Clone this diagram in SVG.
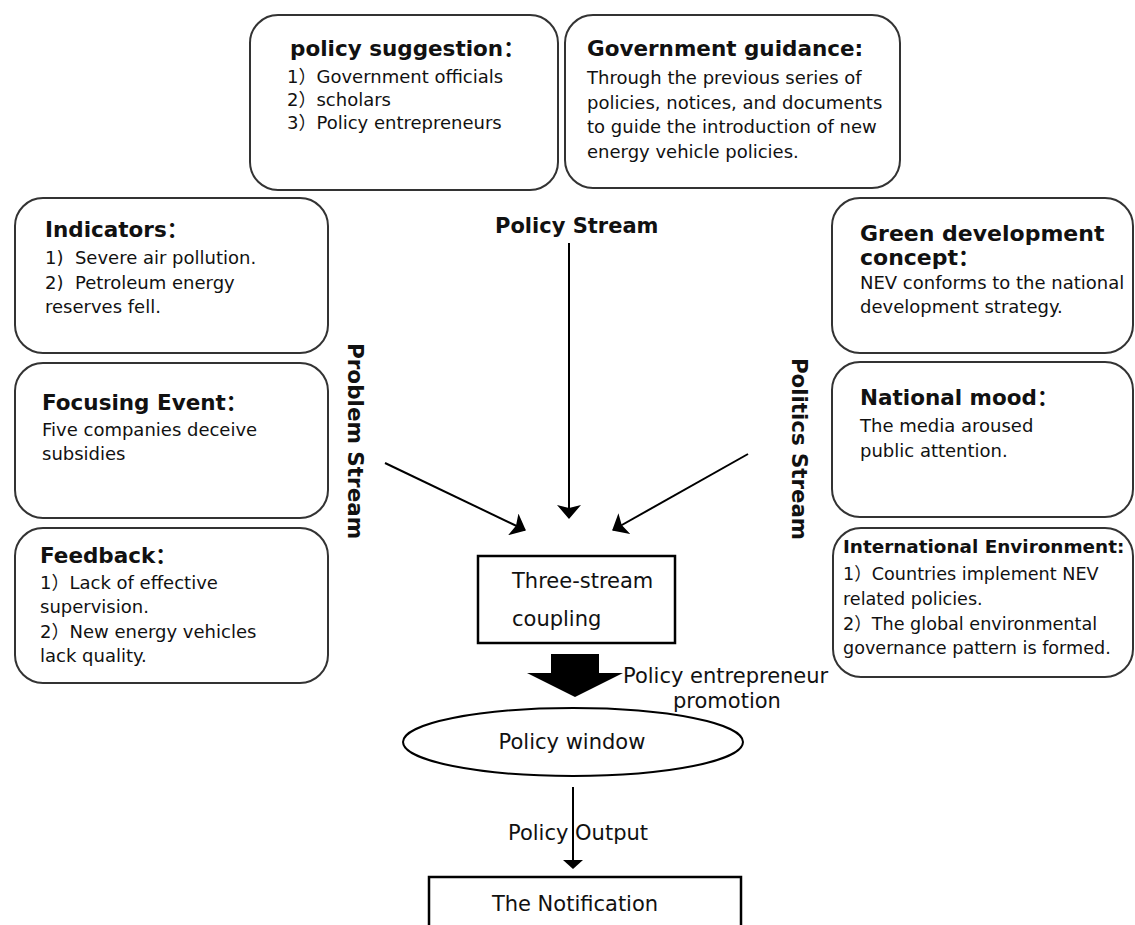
<svg xmlns="http://www.w3.org/2000/svg" width="1135" height="925" viewBox="0 0 1135 925">
<style>
.box{fill:#fff;stroke:#333;stroke-width:2}
.sq{fill:#fff;stroke:#000;stroke-width:2.5}
.t{font-family:"DejaVu Sans","Noto Sans CJK SC",sans-serif;font-size:18px;fill:#111;white-space:pre}
.h{font-weight:bold;font-size:21.5px}
.c{font-size:21px}
.ln{stroke:#000;stroke-width:2;fill:none}
</style>
<defs>
<marker id="ah" markerWidth="14" markerHeight="24" viewBox="0 0 14 24" refX="13" refY="12" orient="auto" markerUnits="userSpaceOnUse">
<path d="M0,0 L14,12 L0,24 L3,12 Z" fill="#000"/>
</marker>
<marker id="ahs" markerWidth="9" markerHeight="20" viewBox="0 0 9 20" refX="8" refY="10" orient="auto" markerUnits="userSpaceOnUse">
<path d="M0,0 L9,10 L0,20 Z" fill="#000"/>
</marker>
</defs>

<g id="policy-suggestion">
<rect class="box" x="250" y="15" width="308" height="175" rx="28"/>
<text class="t h" x="290" y="56">policy suggestion：</text>
<text class="t" x="287" y="83">1）Government officials</text>
<text class="t" x="287" y="106">2）scholars</text>
<text class="t" x="287" y="129">3）Policy entrepreneurs</text>
</g>

<g id="government-guidance">
<rect class="box" x="565" y="15" width="335" height="173" rx="28"/>
<text class="t h" x="587" y="56">Government guidance:</text>
<text class="t" x="587" y="84">Through the previous series of</text>
<text class="t" x="587" y="109">policies, notices, and documents</text>
<text class="t" x="587" y="133">to guide the introduction of new</text>
<text class="t" x="587" y="158">energy vehicle policies.</text>
</g>

<g id="indicators">
<rect class="box" x="15" y="198" width="313" height="155" rx="28"/>
<text class="t h" x="45" y="237">Indicators：</text>
<text class="t" x="45" y="264">1)  Severe air pollution.</text>
<text class="t" x="45" y="289">2)  Petroleum energy</text>
<text class="t" x="45" y="313">reserves fell.</text>
</g>

<g id="focusing-event">
<rect class="box" x="15" y="363" width="313" height="155" rx="28"/>
<text class="t h" x="42" y="410">Focusing Event：</text>
<text class="t" x="42" y="436">Five companies deceive</text>
<text class="t" x="42" y="460">subsidies</text>
</g>

<g id="feedback">
<rect class="box" x="15" y="528" width="313" height="155" rx="28"/>
<text class="t h" x="40" y="563">Feedback：</text>
<text class="t" x="40" y="589">1）Lack of effective</text>
<text class="t" x="40" y="613">supervision.</text>
<text class="t" x="40" y="638">2）New energy vehicles</text>
<text class="t" x="40" y="662">lack quality.</text>
</g>

<g id="green-development">
<rect class="box" x="832" y="198" width="301" height="155" rx="28"/>
<text class="t h" x="860" y="241" style="font-size:22px">Green development</text>
<text class="t h" x="860" y="265" style="font-size:22px">concept：</text>
<text class="t" x="860" y="289">NEV conforms to the national</text>
<text class="t" x="860" y="313">development strategy.</text>
</g>

<g id="national-mood">
<rect class="box" x="832" y="362" width="301" height="155" rx="28"/>
<text class="t h" x="860" y="405">National mood：</text>
<text class="t" x="860" y="432">The media aroused</text>
<text class="t" x="860" y="457">public attention.</text>
</g>

<g id="international-environment">
<rect class="box" x="833" y="528" width="300" height="149" rx="28"/>
<text class="t h" x="843" y="553" style="font-size:18.4px">International Environment:</text>
<text class="t" x="843" y="580" style="font-size:17.6px">1）Countries implement NEV</text>
<text class="t" x="843" y="605" style="font-size:17.6px">related policies.</text>
<text class="t" x="843" y="630" style="font-size:17.6px">2）The global environmental</text>
<text class="t" x="843" y="654" style="font-size:17.6px">governance pattern is formed.</text>
</g>

<g id="stream-labels">
<text class="t h" x="495" y="233" style="font-size:21px">Policy Stream</text>
<text class="t h" transform="translate(348,343) rotate(90)">Problem Stream</text>
<text class="t h" transform="translate(792,358) rotate(90)" style="font-size:21.3px">Politics Stream</text>
</g>

<g id="three-stream-coupling">
<rect class="sq" x="478" y="556" width="197" height="87"/>
<text class="t c" x="512" y="588">Three-stream</text>
<text class="t c" x="512" y="626">coupling</text>
</g>

<g id="policy-window">
<ellipse cx="573" cy="742" rx="170" ry="34" fill="#fff" stroke="#000" stroke-width="2"/>
<text class="t c" x="572" y="749" text-anchor="middle">Policy window</text>
</g>

<g id="the-notification">
<rect class="sq" x="429" y="877" width="312" height="60"/>
<text class="t c" x="575" y="911" text-anchor="middle">The Notification</text>
</g>

<g id="connectors">
<line class="ln" x1="569" y1="243" x2="569" y2="518" marker-end="url(#ah)"/>
<line class="ln" x1="385" y1="463" x2="525" y2="530" marker-end="url(#ah)"/>
<line class="ln" x1="748" y1="454" x2="613" y2="530" marker-end="url(#ah)"/>
<path d="M551,654 L599,654 L599,673 L623,673 L575,697 L527,673 L551,673 Z" fill="#000"/>
<line class="ln" x1="573" y1="787" x2="573" y2="868" stroke-width="1.5" marker-end="url(#ahs)"/>
<text class="t c" x="623" y="683">Policy entrepreneur</text>
<text class="t c" x="673" y="708">promotion</text>
<text class="t c" x="508" y="840">Policy Output</text>
</g>
</svg>
